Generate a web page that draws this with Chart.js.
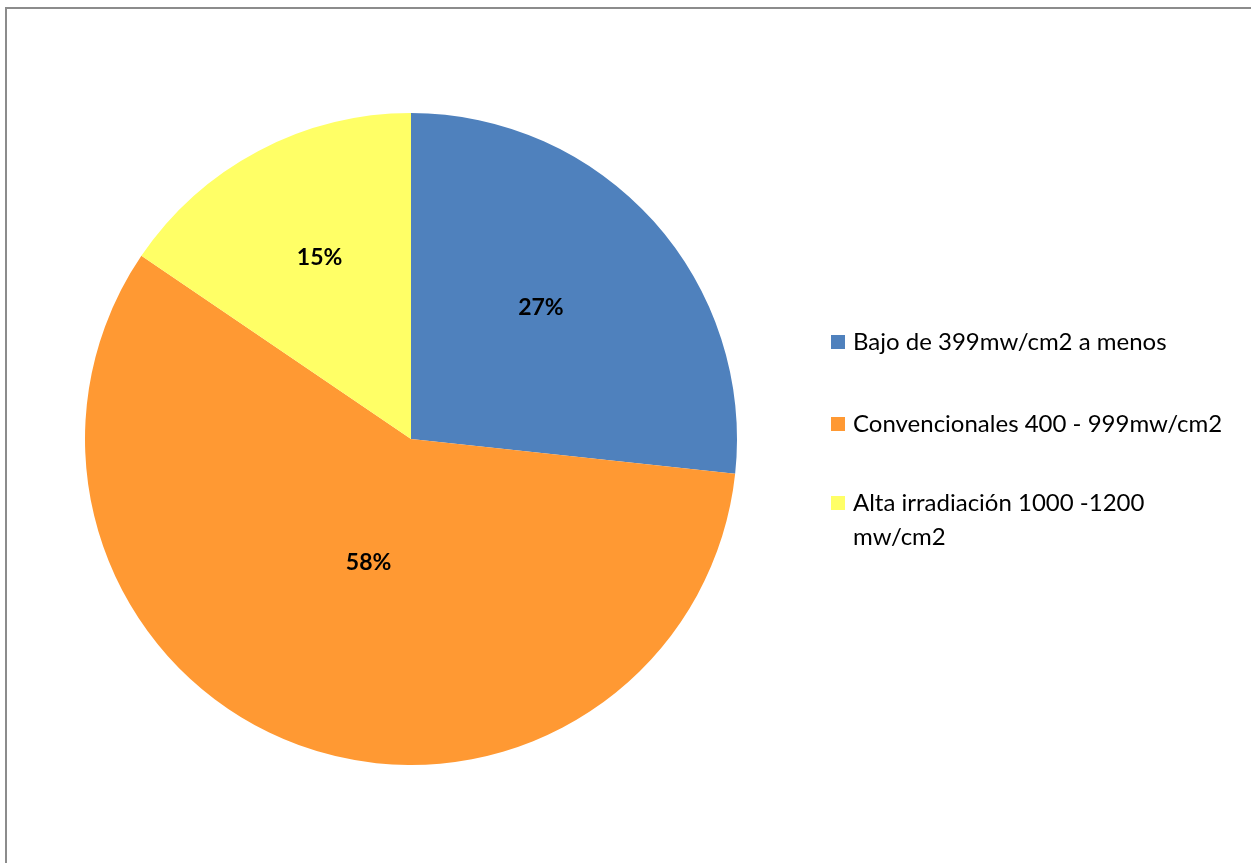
<!DOCTYPE html>
<html>
<head>
<meta charset="utf-8">
<script src="https://cdn.jsdelivr.net/npm/chart.js@4"></script>
<style>
    html, body { margin: 0; padding: 0; background: #ffffff; overflow: hidden; }
    #wrap { position: relative; width: 1251px; height: 863px; }
</style>
</head>
<body>
<div id="wrap"><canvas id="irradiationChart" width="1251" height="863"></canvas></div>
<script>
// Chart values
const categories = ['Bajo de 399mw/cm2 a menos', 'Convencionales 400 - 999mw/cm2', 'Alta irradiación 1000 -1200 mw/cm2'];
const shares = [26.7, 57.8, 15.5];
const shareLabels = ['27%', '58%', '15%'];
const sliceColors = ['#4F81BD', '#FF9933', '#FFFF66'];

// Legend lines (third entry wraps like the original)
const legendLines = [['Bajo de 399mw/cm2 a menos'], ['Convencionales 400 - 999mw/cm2'], ['Alta irradiación 1000 -1200', 'mw/cm2']];

const FONT = 'Lato, "Open Sans", sans-serif';

// Outer frame + percent labels + legend
const decorPlugin = {
    id: 'decor',
    beforeDraw(chart) {
        const ctx = chart.ctx;
        ctx.save();
        ctx.strokeStyle = '#8c8c8c';
        ctx.lineWidth = 2;
        ctx.beginPath();
        ctx.moveTo(6, 900);
        ctx.lineTo(6, 8);
        ctx.lineTo(1300, 8);
        ctx.stroke();
        ctx.restore();
    },
    afterDraw(chart) {
        const ctx = chart.ctx;
        const meta = chart.getDatasetMeta(0);
        // label placement (fraction of radius, angle nudge in degrees), Excel "best fit"-ish
        const radii = [0.566, 0.40, 0.622];
        const nudge = [-3.3, -1.2, 1.1];
        ctx.save();
        ctx.font = 'bold 23px ' + FONT;
        ctx.fillStyle = '#000000';
        ctx.textAlign = 'center';
        ctx.textBaseline = 'middle';
        meta.data.forEach((arc, i) => {
            const mid = (arc.startAngle + arc.endAngle) / 2 + nudge[i] * Math.PI / 180;
            const r = arc.outerRadius * radii[i];
            ctx.fillText(shareLabels[i], arc.x + Math.cos(mid) * r, arc.y + Math.sin(mid) * r);
        });

        // legend
        const rows = [342, 424, 503];
        ctx.font = '24px ' + FONT;
        ctx.textAlign = 'left';
        legendLines.forEach((lines, i) => {
            ctx.fillStyle = sliceColors[i];
            ctx.fillRect(831, rows[i] - 7, 14, 14);
            ctx.fillStyle = '#000000';
            lines.forEach((line, j) => {
                ctx.fillText(line, 853, rows[i] + j * 34);
            });
        });
        ctx.restore();
    }
};

new Chart(document.getElementById('irradiationChart'), {
    type: 'pie',
    data: {
        labels: categories,
        datasets: [{
            data: shares,
            backgroundColor: sliceColors,
            borderWidth: 0
        }]
    },
    options: {
        responsive: false,
        animation: false,
        layout: {
            padding: { left: 85, right: 514, top: 113, bottom: 98 }
        },
        plugins: {
            legend: { display: false },
            tooltip: { enabled: false }
        }
    },
    plugins: [decorPlugin]
});
</script>
</body>
</html>
